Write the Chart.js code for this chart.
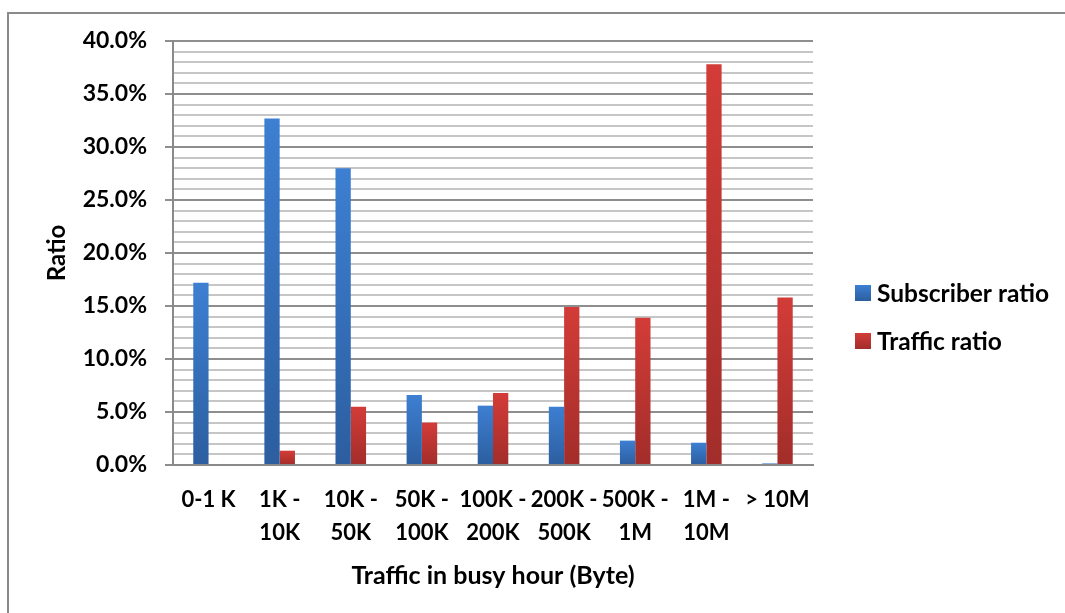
<!DOCTYPE html>
<html>
<head>
<meta charset="utf-8">
<script src="https://cdn.jsdelivr.net/npm/chart.js@4/dist/chart.umd.min.js"></script>
<style>
  html, body { margin: 0; padding: 0; background: #fff; }
  #wrap { position: relative; width: 1065px; height: 613px; }
  #frame { position: absolute; left: 7px; top: 12px; right: 0; bottom: 0; border-left: 2px solid #8a8a8a; border-top: 2px solid #8a8a8a; }
  canvas { position: absolute; left: 0; top: 0; }
</style>
</head>
<body>
<div id="wrap">
  <div id="frame"></div>
  <canvas id="c" width="1065" height="613"></canvas>
</div>
<script>
const categories = [["0-1 K"], ["1K -", "10K"], ["10K -", "50K"], ["50K -", "100K"], ["100K -", "200K"], ["200K -", "500K"], ["500K -", "1M"], ["1M -", "10M"], ["> 10M"]];
const subscriberRatio = [17.2, 32.7, 28.0, 6.6, 5.6, 5.5, 2.3, 2.1, 0.15];
const trafficRatio = [0, 1.35, 5.5, 4.0, 6.8, 14.9, 13.9, 37.8, 15.8];
const seriesNames = ["Subscriber ratio", "Traffic ratio"];
const yTickValues = [0, 5, 10, 15, 20, 25, 30, 35, 40];

const FONT = "Lato, 'Open Sans', sans-serif";
const blueTop = '#3d7fd2', blueBottom = '#2c5e9f';
const redTop = '#d33c38', redBottom = '#a22d2a';

function barGradient(top, bottom) {
  return function(ctx) {
    const chart = ctx.chart;
    if (!chart.chartArea || ctx.type !== 'data') return top;
    const ys = chart.scales.y;
    const y0 = ys.getPixelForValue(ctx.raw);
    const y1 = ys.getPixelForValue(0);
    if (!isFinite(y0) || y1 - y0 < 1) return bottom;
    const g = chart.ctx.createLinearGradient(0, y0, 0, y1);
    g.addColorStop(0, top);
    g.addColorStop(1, bottom);
    return g;
  };
}

const legendPlugin = {
  id: 'customLegend',
  afterDraw(chart) {
    const c = chart.ctx;
    const items = [
      { text: chart.data.datasets[0].label, top: blueTop, bottom: blueBottom, y: 293 },
      { text: chart.data.datasets[1].label, top: redTop, bottom: redBottom, y: 341 }
    ];
    c.save();
    c.font = "bold 24.5px " + FONT;
    c.textBaseline = 'middle';
    c.textAlign = 'left';
    items.forEach(it => {
      const g = c.createLinearGradient(0, it.y - 8, 0, it.y + 8);
      g.addColorStop(0, it.top); g.addColorStop(1, it.bottom);
      c.fillStyle = g;
      c.fillRect(855, it.y - 8, 16, 16);
      c.fillStyle = '#000';
      c.fillText(it.text, 877, it.y + 1);
    });
    c.restore();
  }
};

new Chart(document.getElementById('c'), {
  type: 'bar',
  data: {
    labels: categories,
    datasets: [
      { label: seriesNames[0], data: subscriberRatio, backgroundColor: barGradient(blueTop, blueBottom), categoryPercentage: 0.43, barPercentage: 1.0 },
      { label: seriesNames[1], data: trafficRatio, backgroundColor: barGradient(redTop, redBottom), categoryPercentage: 0.43, barPercentage: 1.0 }
    ]
  },
  options: {
    responsive: false,
    animation: false,
    layout: { padding: { left: 41, right: 252, top: 41, bottom: 19 } },
    plugins: { legend: { display: false }, tooltip: { enabled: false } },
    scales: {
      x: {
        grid: { display: false, drawTicks: false },
        border: { display: true, color: '#8a8a8a', width: 2 },
        ticks: { color: '#000', font: { family: FONT, size: 22, weight: 'bold', lineHeight: 1.5 }, padding: 18, maxRotation: 0, autoSkip: false },
        title: { display: true, text: 'Traffic in busy hour (Byte)', color: '#000', font: { family: FONT, size: 25, weight: 'bold', lineHeight: 1.2 }, padding: { top: 4, bottom: 3 } },
        afterFit(scale) { scale.height = 613 - 465 - 19; }
      },
      y: {
        min: 0, max: 40,
        grid: {
          color: ctx => (ctx.tick && yTickValues.includes(ctx.tick.value)) ? '#8e8e8e' : '#c6c6c6',
          tickColor: ctx => (ctx.tick && yTickValues.includes(ctx.tick.value)) ? '#8e8e8e' : 'rgba(0,0,0,0)',
          lineWidth: 2,
          tickLength: 8
        },
        border: { display: true, color: '#8a8a8a', width: 2 },
        ticks: {
          stepSize: 1, autoSkip: false, padding: 18, color: '#000',
          font: { family: FONT, size: 23, weight: 'bold' },
          callback: v => yTickValues.includes(v) ? v.toFixed(1) + '%' : ''
        },
        title: { display: true, text: 'Ratio', color: '#000', font: { family: FONT, size: 24, weight: 'bold', lineHeight: 1.2 }, padding: { top: 2, bottom: 2 } },
        afterFit(scale) { scale.width = 173 - 41; }
      }
    }
  },
  plugins: [legendPlugin]
});
</script>
</body>
</html>
